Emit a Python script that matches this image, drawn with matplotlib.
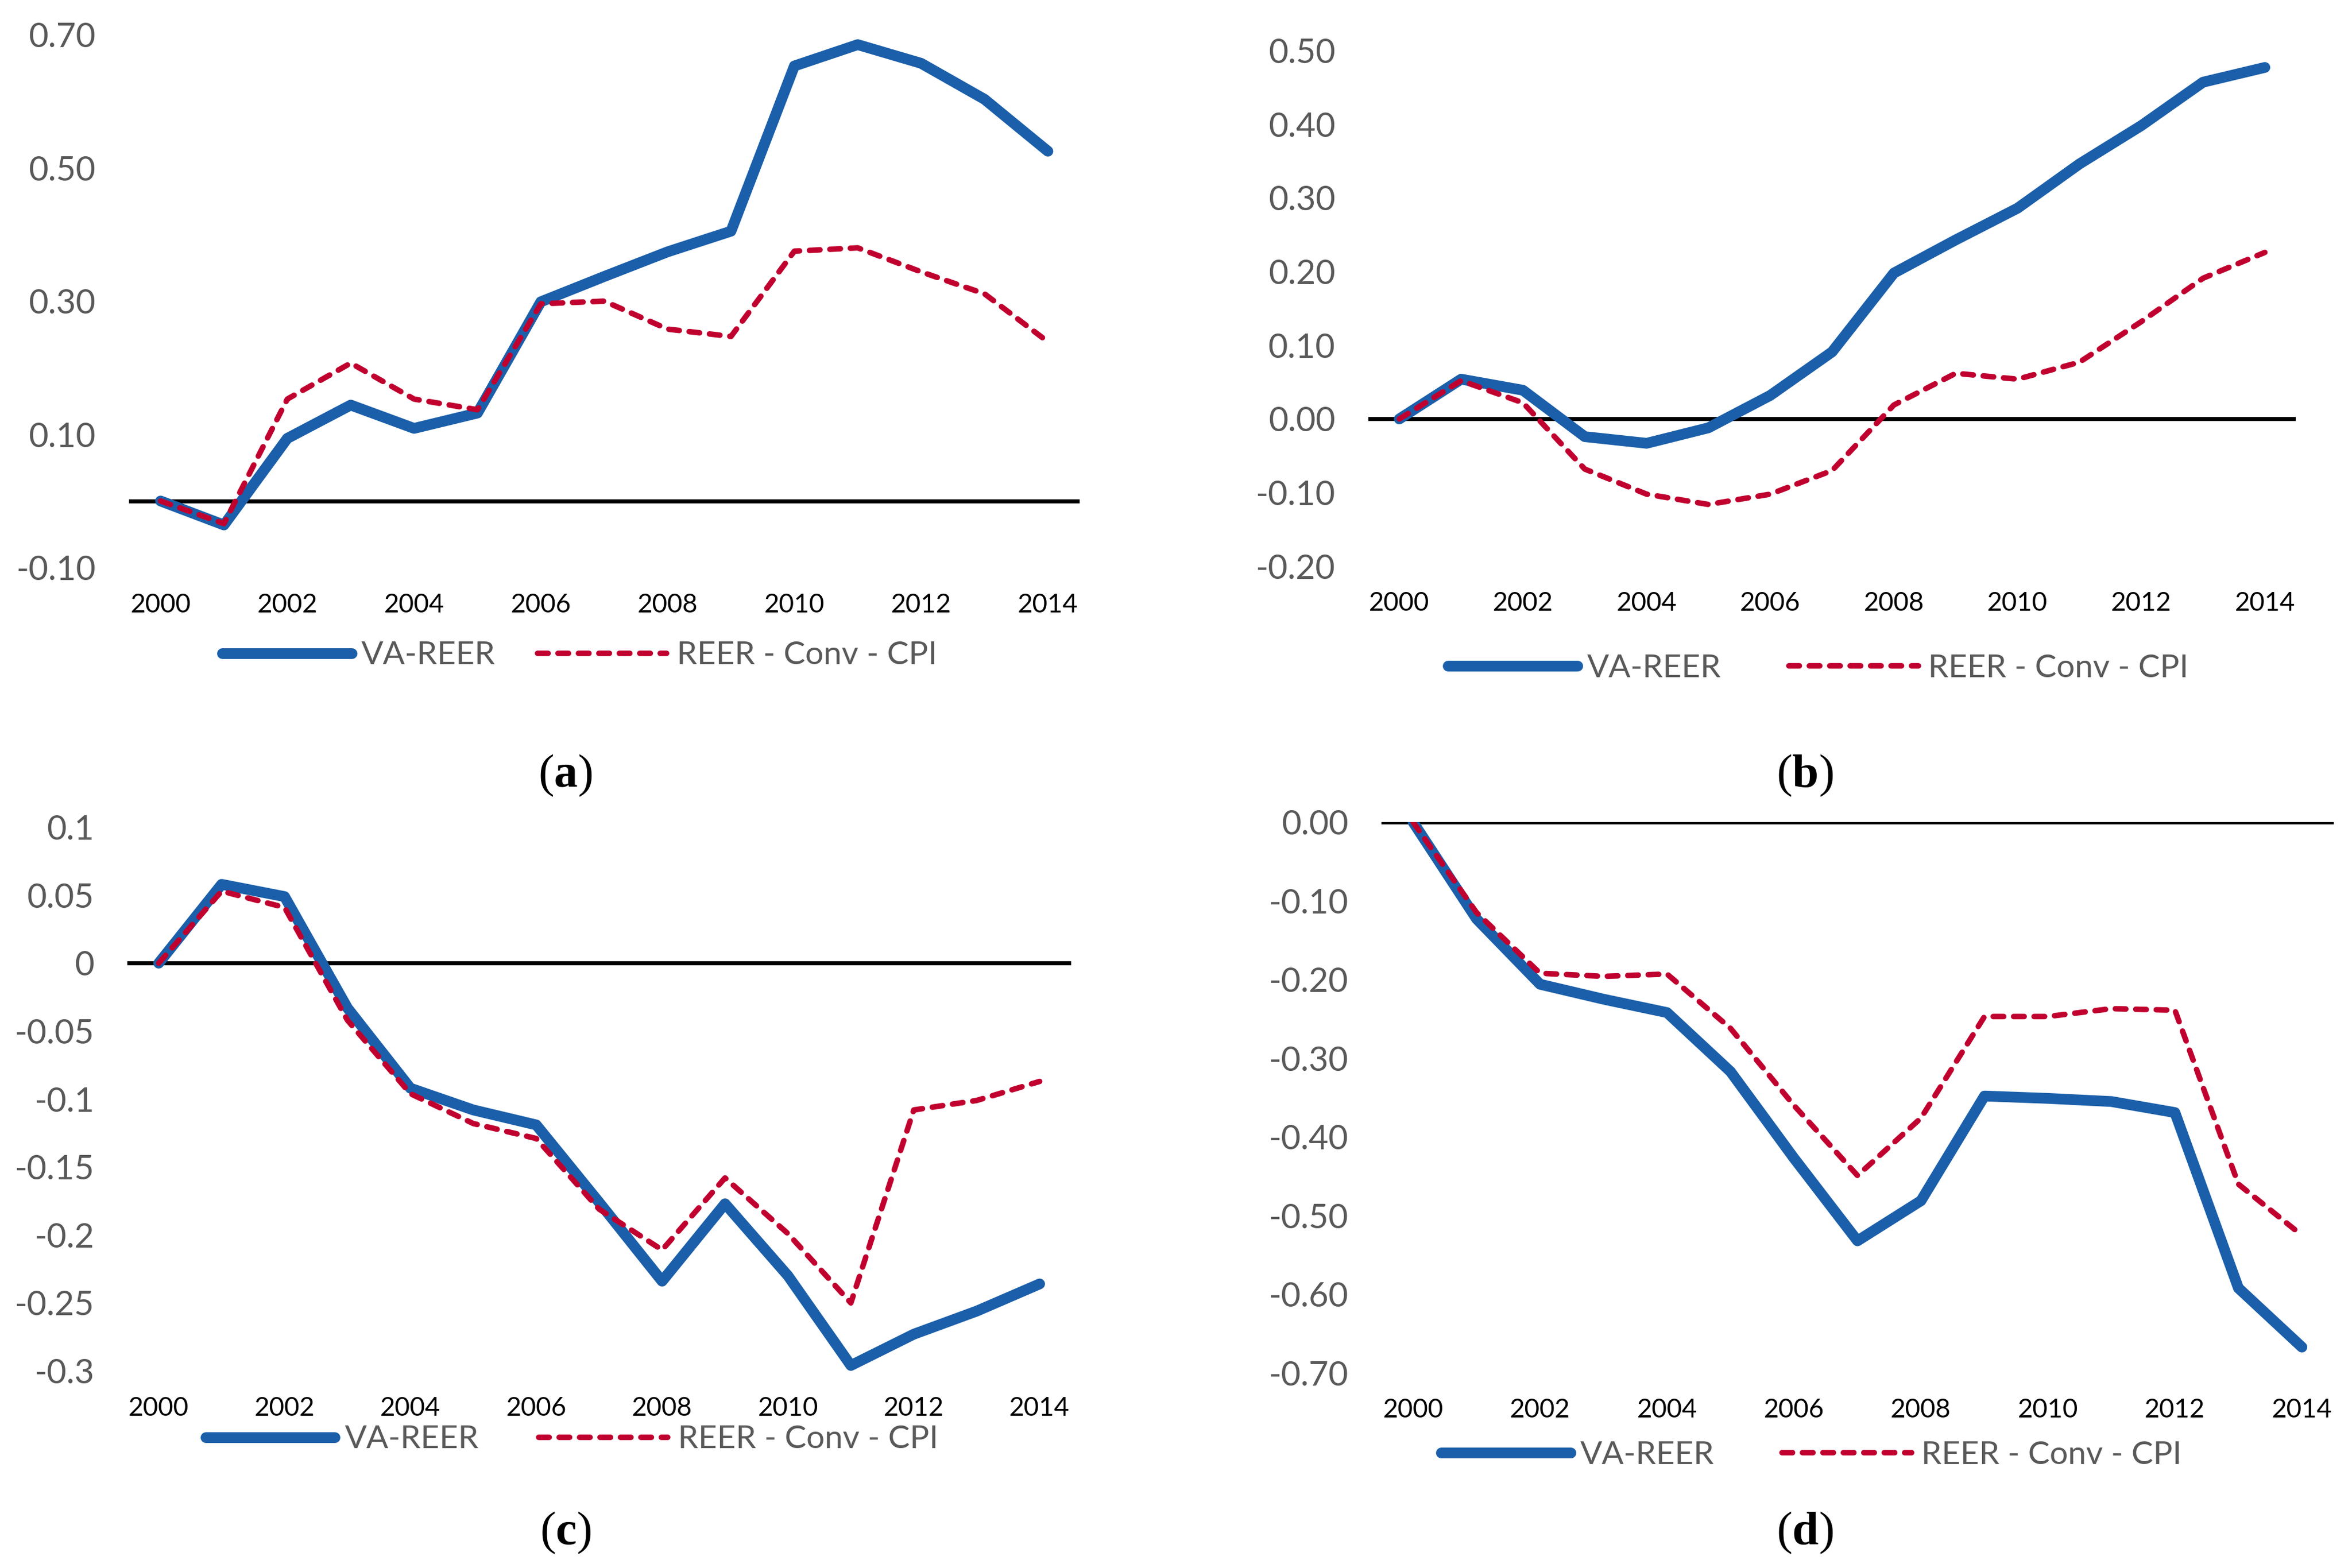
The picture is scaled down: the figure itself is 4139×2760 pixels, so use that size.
import matplotlib.pyplot as plt
from matplotlib.ticker import FixedLocator, FuncFormatter

plt.rcParams['font.family'] = ['Lato', 'DejaVu Sans']
plt.rcParams['mathtext.fontset'] = 'custom'
plt.rcParams['mathtext.rm'] = 'Liberation Serif'
plt.rcParams['mathtext.bf'] = 'Liberation Serif:bold'

years = list(range(2000, 2015))
year_ticks = list(range(2000, 2015, 2))
labels = ["VA-REER", "REER - Conv - CPI"]

# panel (a)
va_a = [0.0, -0.036, 0.094, 0.144, 0.109, 0.132, 0.299, 0.337, 0.374, 0.405,
        0.653, 0.685, 0.657, 0.603, 0.525]
conv_a = [0.0, -0.034, 0.153, 0.207, 0.153, 0.137, 0.296, 0.300, 0.258, 0.247,
          0.375, 0.380, 0.344, 0.311, 0.239]
ticks_a = [-0.10, 0.10, 0.30, 0.50, 0.70]

# panel (b)
va_b = [0.0, 0.054, 0.039, -0.024, -0.033, -0.012, 0.032, 0.091, 0.198, 0.243,
        0.286, 0.346, 0.398, 0.457, 0.477]
conv_b = [0.0, 0.052, 0.022, -0.068, -0.102, -0.116, -0.102, -0.070, 0.019, 0.062,
          0.054, 0.077, 0.132, 0.191, 0.226]
ticks_b = [-0.20, -0.10, 0.00, 0.10, 0.20, 0.30, 0.40, 0.50]

# panel (c)
va_c = [0.0, 0.058, 0.049, -0.033, -0.092, -0.108, -0.119, -0.176, -0.234, -0.177,
        -0.230, -0.296, -0.273, -0.256, -0.236]
conv_c = [0.0, 0.053, 0.041, -0.042, -0.096, -0.118, -0.129, -0.181, -0.211, -0.158,
          -0.199, -0.250, -0.108, -0.101, -0.087]
ticks_c = [-0.3, -0.25, -0.2, -0.15, -0.1, -0.05, 0, 0.05, 0.1]

# panel (d)
va_d = [0.0, -0.123, -0.206, -0.225, -0.242, -0.317, -0.427, -0.532, -0.481, -0.348,
        -0.351, -0.355, -0.369, -0.592, -0.667]
conv_d = [0.0, -0.115, -0.192, -0.196, -0.193, -0.262, -0.360, -0.449, -0.376, -0.247,
          -0.247, -0.237, -0.239, -0.460, -0.525]
ticks_d = [-0.70, -0.60, -0.50, -0.40, -0.30, -0.20, -0.10, 0.00]

BLUE = '#1B5FAA'
RED = '#C0002E'
GRAY = '#595959'


def fmt2(v, pos):
    return ('%.2f' % v).replace('-0.00', '0.00')


def fmt_gen(v, pos):
    s = ('%.2f' % v).rstrip('0').rstrip('.')
    return '0' if s in ('-0', '0') else s


fig = plt.figure(figsize=(20.695, 13.8), dpi=200)

panels = [
    # rect, va, conv, ticks, formatter, legend pos, colspacing, caption pos, letter
    ([0.0548, 0.6380, 0.4042, 0.3399], va_a, conv_a, ticks_a, fmt2, (0.2464, 0.5819), 1.3, (0.2404, 0.5054), 'a'),
    ([0.5818, 0.6388, 0.3943, 0.3290], va_b, conv_b, ticks_b, fmt2, (0.7731, 0.5736), 2.1, (0.7673, 0.5054), 'b'),
    ([0.0541, 0.1257, 0.4013, 0.3467], va_c, conv_c, ticks_c, fmt_gen, (0.2431, 0.0819), 1.85, (0.2404, 0.0225), 'c'),
    ([0.5873, 0.1243, 0.4049, 0.3514], va_d, conv_d, ticks_d, fmt2, (0.7702, 0.0721), 2.1, (0.7673, 0.0225), 'd'),
]

for rect, va, conv, ticks, fmt, legpos, colsp, cappos, letter in panels:
    ax = fig.add_axes(rect)
    ax.axhline(0, color='black', lw=2.6, zorder=1)
    ax.plot(years, va, color=BLUE, lw=6.8, solid_capstyle='round',
            solid_joinstyle='round', label=labels[0], zorder=2)
    ax.plot(years, conv, color=RED, lw=3.5, linestyle=(0, (1.9, 1.8)),
            dash_capstyle='round', solid_joinstyle='round', label=labels[1], zorder=3)
    ax.set_xlim(1999.5, 2014.5)
    ax.set_ylim(min(ticks), max(ticks))
    ax.xaxis.set_major_locator(FixedLocator(year_ticks))
    ax.yaxis.set_major_locator(FixedLocator(ticks))
    ax.yaxis.set_major_formatter(FuncFormatter(fmt))
    ax.tick_params(axis='y', length=0, pad=21, labelsize=21.5, labelcolor=GRAY)
    ax.tick_params(axis='x', length=0, pad=16, labelsize=16.5, labelcolor='black')
    for s in ax.spines.values():
        s.set_visible(False)
    ax.patch.set_alpha(0)

    fig.legend(*ax.get_legend_handles_labels(), loc='center',
               bbox_to_anchor=legpos, bbox_transform=fig.transFigure,
               ncol=2, frameon=False, fontsize=20.5, labelcolor=GRAY,
               handlelength=4.0, handletextpad=0.3, columnspacing=colsp,
               borderpad=0, borderaxespad=0)
    fig.text(cappos[0], cappos[1], r'$(\mathbf{%s})$' % letter, ha='center',
             va='center', fontsize=30)

fig.savefig('out.png', dpi=200, facecolor='white')
